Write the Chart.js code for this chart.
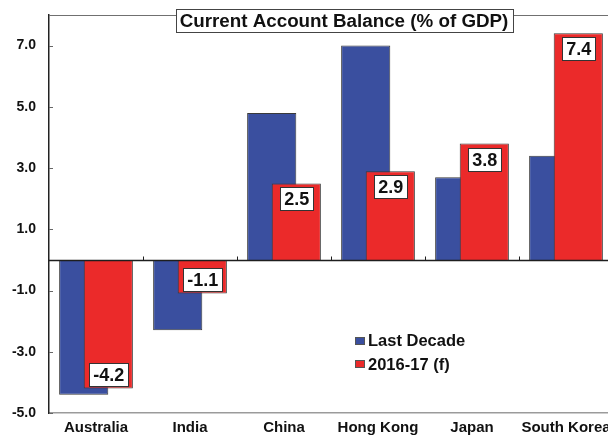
<!DOCTYPE html>
<html>
<head>
<meta charset="utf-8">
<script src="https://cdn.jsdelivr.net/npm/chart.js@4.4.0/dist/chart.umd.min.js"></script>
<style>
  html, body { margin: 0; padding: 0; background: #fff; overflow: hidden; }
  #wrap { width: 616px; height: 435px; }
</style>
</head>
<body>
<div id="wrap"><canvas id="cabChart"></canvas></div>
<script>
const countries = ['Australia', 'India', 'China', 'Hong Kong', 'Japan', 'South Korea'];
const lastDecade = [-4.4, -2.3, 4.8, 7.0, 2.7, 3.4];
const forecast = [-4.2, -1.1, 2.5, 2.9, 3.8, 7.4];
const seriesNames = ['Last Decade', '2016-17 (f)'];
const yTicks = [-5, -3, -1, 1, 3, 5, 7];
const chartTitle = 'Current Account Balance (% of GDP)';

const FONT = '"Liberation Sans", Arial, Helvetica, sans-serif';
const BLUE = '#3a4f9f';
const RED = '#eb2a2a';
const EDGE = '#3a3a3a';

function line(ctx, x1, y1, x2, y2) {
    ctx.beginPath();
    ctx.moveTo(x1, y1);
    ctx.lineTo(x2, y2);
    ctx.stroke();
}

// paint the blue set first so the red bars overlap it
const redOnTop = {
    id: 'redOnTop',
    beforeDatasetsDraw(chart) {
        chart.getDatasetMeta(0).controller.draw();
    },
    beforeDatasetDraw(chart, args) {
        if (args.index === 0) return false;
    }
};

// top rule, zero line and the small inward tick marks
const frame = {
    id: 'frame',
    afterDatasetsDraw(chart) {
        const { ctx, chartArea: a, scales: { x, y } } = chart;
        const zero = Math.round(y.getPixelForValue(0)) + 0.5;
        ctx.save();
        ctx.lineWidth = 1;
        ctx.strokeStyle = '#707070';
        line(ctx, a.left, a.top + 0.5, a.right, a.top + 0.5);

        ctx.strokeStyle = '#666';
        yTicks.forEach(v => {
            const py = Math.round(y.getPixelForValue(v)) + 0.5;
            line(ctx, a.left, py, a.left + 4, py);
        });

        ctx.strokeStyle = '#1e1e1e';
        ctx.lineWidth = 1.5;
        line(ctx, a.left, zero, a.right, zero);
        ctx.lineWidth = 1;
        for (let i = 1; i < countries.length; i++) {
            const px = Math.round((x.getPixelForValue(i - 1) + x.getPixelForValue(i)) / 2) + 0.5;
            line(ctx, px, zero, px, zero - 4);
        }
        ctx.restore();
    }
};

// boxed value labels at the end of each red bar
const valueBoxes = {
    id: 'valueBoxes',
    afterDatasetsDraw(chart) {
        const { ctx } = chart;
        const meta = chart.getDatasetMeta(1);
        ctx.save();
        ctx.font = 'bold 18px ' + FONT;
        ctx.textAlign = 'center';
        ctx.textBaseline = 'middle';
        meta.data.forEach((bar, i) => {
            const v = forecast[i];
            const txt = v.toFixed(1);
            const w = Math.round(ctx.measureText(txt).width + 8);
            const h = 23;
            const top = Math.round(v >= 0 ? bar.y + 4 : bar.y - 3 - h);
            const left = Math.round(bar.x - w / 2);
            ctx.fillStyle = '#fff';
            ctx.fillRect(left, top, w, h);
            ctx.strokeStyle = '#333';
            ctx.lineWidth = 1;
            ctx.strokeRect(left + 0.5, top + 0.5, w, h);
            ctx.fillStyle = '#111';
            ctx.fillText(txt, bar.x + 0.5, top + h / 2 + 1.5);
        });
        ctx.restore();
    }
};

const legendBox = {
    id: 'legendBox',
    afterDraw(chart) {
        const { ctx } = chart;
        const x0 = 355, y0 = 340.5, rowGap = 23.5;
        ctx.save();
        ctx.font = 'bold 16.5px ' + FONT;
        ctx.textBaseline = 'middle';
        chart.data.datasets.forEach((ds, i) => {
            const cy = y0 + i * rowGap;
            ctx.fillStyle = ds.backgroundColor;
            ctx.fillRect(x0, Math.round(cy - 4), 10, 8);
            ctx.strokeStyle = '#555';
            ctx.lineWidth = 1;
            ctx.strokeRect(x0 + 0.5, Math.round(cy - 4) + 0.5, 9, 7);
            ctx.fillStyle = '#111';
            ctx.fillText(ds.label, x0 + 13, cy + 1);
        });
        ctx.restore();
    }
};

const titleBox = {
    id: 'titleBox',
    afterDraw(chart) {
        const { ctx } = chart;
        ctx.save();
        ctx.font = 'bold 18.8px ' + FONT;
        const w = Math.round(ctx.measureText(chartTitle).width + 8);
        const cx = 344, top = 9, h = 23;
        const left = Math.round(cx - w / 2);
        ctx.fillStyle = '#fff';
        ctx.fillRect(left, top, w, h);
        ctx.strokeStyle = '#444';
        ctx.lineWidth = 1;
        ctx.strokeRect(left + 0.5, top + 0.5, w, h);
        ctx.fillStyle = '#111';
        ctx.textAlign = 'center';
        ctx.textBaseline = 'middle';
        ctx.fillText(chartTitle, cx, top + h / 2 + 1.5);
        ctx.restore();
    }
};

new Chart(document.getElementById('cabChart'), {
    type: 'bar',
    data: {
        labels: countries,
        datasets: [
            { label: seriesNames[0], data: lastDecade, backgroundColor: BLUE },
            { label: seriesNames[1], data: forecast, backgroundColor: RED }
        ]
    },
    options: {
        responsive: true,
        maintainAspectRatio: false,
        animation: false,
        layout: { padding: { top: 15, right: 3, left: 0, bottom: 0 } },
        datasets: {
            bar: {
                categoryPercentage: 0.523,
                barPercentage: 2.0,
                borderWidth: 1,
                borderColor: EDGE
            }
        },
        scales: {
            x: {
                grid: { display: false, drawTicks: false },
                border: { color: '#9b9b9b', width: 1.5 },
                ticks: {
                    font: { family: FONT, size: 15, weight: 'bold' },
                    color: '#111',
                    padding: 6,
                    maxRotation: 0,
                    autoSkip: false
                },
                afterFit(scale) {
                    scale.height = 22;
                    scale.paddingLeft = 0;
                    scale.paddingRight = 0;
                }
            },
            y: {
                min: -5,
                max: 8,
                grid: { display: false, drawTicks: false },
                border: { color: '#222', width: 1.5 },
                ticks: {
                    font: { family: FONT, size: 14, weight: 'bold' },
                    color: '#111',
                    padding: 13,
                    callback: v => v.toFixed(1)
                },
                afterBuildTicks(scale) {
                    scale.ticks = yTicks.map(v => ({ value: v }));
                },
                afterFit(scale) {
                    scale.width = 49;
                    scale.paddingTop = 0;
                    scale.paddingBottom = 0;
                }
            }
        },
        plugins: {
            legend: { display: false },
            tooltip: { enabled: false }
        }
    },
    plugins: [redOnTop, frame, valueBoxes, legendBox, titleBox]
});
</script>
</body>
</html>
